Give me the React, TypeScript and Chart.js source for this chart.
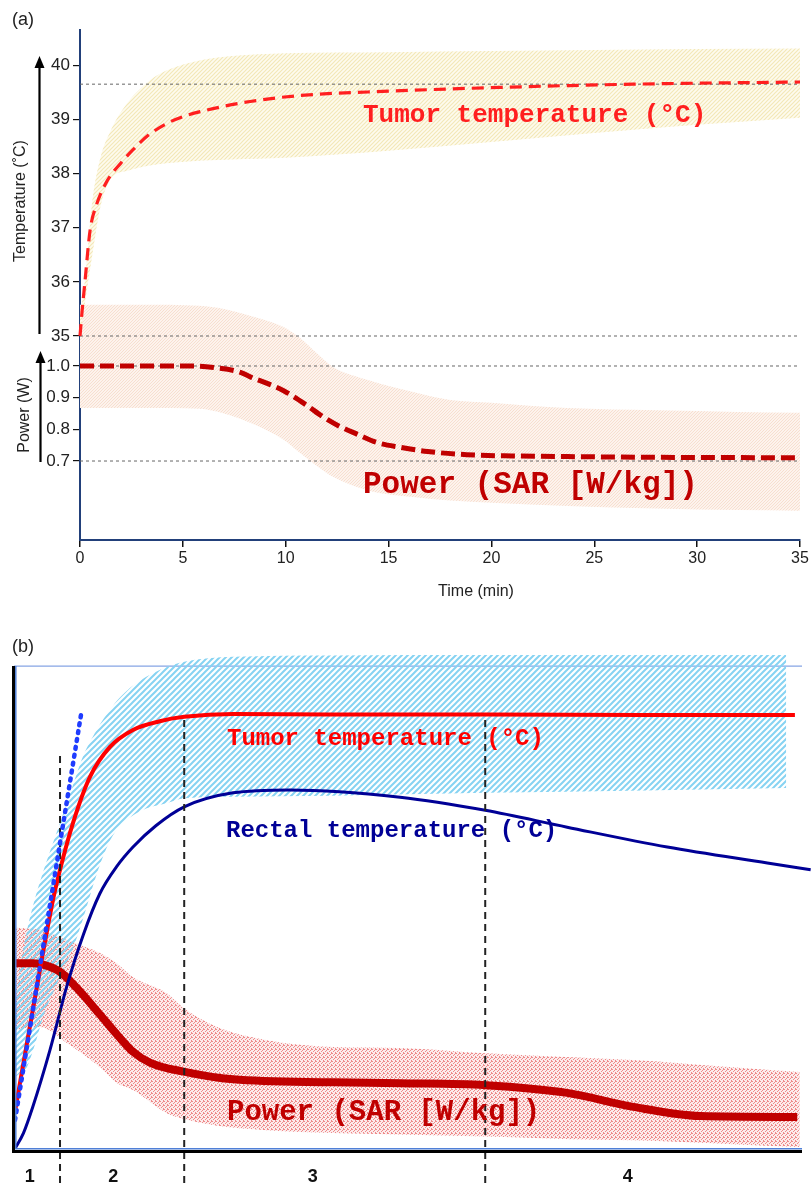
import React, { useEffect, useRef } from 'react';
import { Chart, registerables } from 'chart.js';

Chart.register(...registerables);

// ---------------- Panel (a) data ----------------
const A_X_TICKS_MAX = 35;
const A_TEMP_TICKS = [35, 36, 37, 38, 39, 40];
const A_POWER_TICKS = [0.7, 0.8, 0.9, 1.0];

const A_TEMP_T = [0, 0.1, 0.24, 0.49, 0.8, 1.3, 2, 2.58, 3.3, 4.2, 5, 6.15, 8.27, 10.7, 15, 20.4, 26.9, 35];
const A_TEMP_V = [35, 35.45, 36.0, 36.95, 37.42, 37.85, 38.2, 38.44, 38.7, 38.92, 39.05, 39.17, 39.33, 39.44, 39.52, 39.59, 39.65, 39.69];

const A_TBAND_T = [0, 0.2, 0.6, 1, 1.5, 2.3, 3.4, 4.2, 6, 7.4, 10, 15, 20, 25, 30, 35];
const A_TBAND_HI = [35.4, 35.9, 37.5, 38.3, 38.8, 39.3, 39.72, 39.9, 40.1, 40.17, 40.22, 40.24, 40.26, 40.28, 40.3, 40.31];
const A_TBAND_LO = [35.0, 35.5, 36.5, 37.4, 37.9, 38.05, 38.15, 38.19, 38.24, 38.26, 38.29, 38.42, 38.58, 38.75, 38.9, 39.03];

const A_POW_T = [0, 5.5, 6.5, 7.8, 8.3, 9.1, 9.9, 11.0, 11.8, 12.6, 13.5, 14.4, 15.6, 16.9, 18.8, 21, 23.7, 27, 31, 35];
const A_POW_V = [1.0, 1.0, 0.995, 0.98, 0.965, 0.945, 0.922, 0.877, 0.84, 0.81, 0.784, 0.759, 0.743, 0.73, 0.72, 0.716, 0.714, 0.712, 0.711, 0.71];

const A_PBAND_T = [0, 3, 5.8, 7, 8.3, 9.9, 10.7, 11.5, 12.3, 14, 16.4, 18, 20, 23.7, 28, 32, 35];
const A_PBAND_HI = [1.193, 1.193, 1.19, 1.18, 1.158, 1.123, 1.088, 1.041, 0.997, 0.956, 0.915, 0.893, 0.884, 0.867, 0.86, 0.855, 0.852];
const A_PBAND_LO = [0.867, 0.867, 0.865, 0.85, 0.82, 0.767, 0.725, 0.685, 0.65, 0.607, 0.585, 0.575, 0.568, 0.558, 0.55, 0.545, 0.543];

const A_TEMP_REFS = [39.65, 35];
const A_POWER_REFS = [1.0, 0.7];

// ---------------- Panel (b) data ----------------
const B_SEG_POS = [2.0, 12.6, 37.9, 77.9];
const B_SEG_LABELS = ['1', '2', '3', '4'];
const B_BOUNDS_X = [5.84, 21.6, 59.8];
const B_BOUNDS_TOP = [82.2, 89.9, 89.9];
const B_BOUNDS_BOTTOM = -6.8;
const B_FRAME_TOP = 100;

const B_TUMOR_X = [0.13, 2.5, 4.95, 5.84, 7.49, 9.64, 12.18, 15.1, 18.5, 21.6, 27.8, 40, 60, 80, 99.1];
const B_TUMOR_Y = [8, 30, 51.7, 57.9, 67.6, 77.1, 83.3, 86.8, 88.6, 89.5, 90.1, 90.0, 90.0, 89.9, 89.9];

const B_TANGENT_X = [0.13, 4.95, 8.6];
const B_TANGENT_Y = [6.2, 54.5, 90.9];

const B_RECTAL_X = [0.13, 1.2, 2.4, 4.57, 6.73, 8.8, 10.9, 13, 15.1, 18, 21.6, 27.8, 35, 49, 59.8, 70.2, 82.9, 95.6, 101.1];
const B_RECTAL_Y = [0.3, 3.5, 9, 20.7, 34, 44.5, 53, 58.5, 62.6, 67, 70.9, 73.8, 74.4, 72.9, 70.2, 66.7, 62.6, 59.3, 57.9];

const B_POWER_X = [0, 2.4, 3.7, 5.84, 8, 10.9, 13.1, 15.1, 17.3, 21.5, 27.8, 40.5, 49, 59.8, 70.2, 78.6, 87.1, 99.4];
const B_POWER_Y = [38.6, 38.6, 38.3, 36.8, 33.4, 28, 23.8, 20.3, 18, 16.2, 14.6, 14.0, 13.8, 13.4, 11.8, 8.9, 7.0, 6.8];

const B_PBAND_X = [0, 3.3, 6.7, 10.9, 13.1, 15.1, 19.4, 21.4, 25.8, 32.1, 40.5, 49, 59.8, 74.4, 78.6, 91.2, 99.7];
const B_PBAND_HI = [45.9, 45.5, 43.4, 40.7, 38.5, 35.7, 32.4, 29.5, 25.4, 22.7, 21.3, 21.1, 20, 18.9, 18.6, 17.1, 16.1];
const B_PBAND_LO = [24.8, 25.4, 22.1, 17.1, 13.8, 12.4, 7.6, 6.5, 5.0, 4.1, 3.5, 3.2, 2.8, 2.1, 2.0, 1.2, 0.6];

const B_TBAND_X = [0, 0.5, 0.8, 1.6, 2.5, 3.7, 5.5, 7.4, 8.8, 10.5, 12.2, 13.5, 16, 19.4, 21.6, 27.8, 40, 60, 80, 98];
const B_TBAND_HI = [25, 34.5, 38, 45, 51, 57.5, 66, 75, 81.5, 86.8, 91, 93.6, 97, 99.8, 100.9, 101.9, 102.2, 102.3, 102.3, 102.3];
const B_TBAND_LO = [15, 15.5, 16, 17, 21, 27.5, 34.5, 41.3, 48, 57, 64, 67, 70, 71.7, 72.7, 73, 73.2, 73.8, 74.3, 74.8];

// ---------------- helpers ----------------
const pts = (xs: number[], ys: number[]) => xs.map((x, i) => ({ x, y: ys[i] }));

function stripePattern(color: string, size: number, width: number, bg?: string): CanvasPattern | string {
  const c = document.createElement('canvas');
  c.width = size;
  c.height = size;
  const g = c.getContext('2d');
  if (!g) return color;
  if (bg) {
    g.fillStyle = bg;
    g.fillRect(0, 0, size, size);
  }
  g.strokeStyle = color;
  g.lineWidth = width;
  g.beginPath();
  g.moveTo(-1, size + 1);
  g.lineTo(size + 1, -1);
  g.moveTo(-size, size);
  g.lineTo(size, -size);
  g.moveTo(0, 2 * size);
  g.lineTo(2 * size, 0);
  g.stroke();
  return g.createPattern(c, 'repeat') || color;
}

function dotPattern(color: string, bg: string): CanvasPattern | string {
  const c = document.createElement('canvas');
  c.width = 4;
  c.height = 4;
  const g = c.getContext('2d');
  if (!g) return color;
  g.fillStyle = bg;
  g.fillRect(0, 0, 4, 4);
  g.fillStyle = color;
  const cells = [[0, 0], [2, 1], [1, 2], [3, 3], [3, 0]];
  cells.forEach(([x, y]) => g.fillRect(x, y, 1, 1));
  return g.createPattern(c, 'repeat') || color;
}

const SANS = '"Liberation Sans", Arial, sans-serif';
const MONO = '"Liberation Mono", "Courier New", monospace';

function drawArrow(ctx: CanvasRenderingContext2D, x: number, yBottom: number, yTip: number) {
  ctx.save();
  ctx.strokeStyle = '#000';
  ctx.fillStyle = '#000';
  ctx.lineWidth = 2.2;
  ctx.beginPath();
  ctx.moveTo(x, yBottom);
  ctx.lineTo(x, yTip + 8);
  ctx.stroke();
  ctx.beginPath();
  ctx.moveTo(x, yTip);
  ctx.lineTo(x - 5, yTip + 12);
  ctx.lineTo(x + 5, yTip + 12);
  ctx.closePath();
  ctx.fill();
  ctx.restore();
}

function vText(ctx: CanvasRenderingContext2D, text: string, cx: number, cy: number, font: string) {
  ctx.save();
  ctx.translate(cx, cy);
  ctx.rotate(-Math.PI / 2);
  ctx.font = font;
  ctx.fillStyle = '#222';
  ctx.textAlign = 'center';
  ctx.textBaseline = 'middle';
  ctx.fillText(text, 0, 0);
  ctx.restore();
}

const panelAPlugin = {
  id: 'panelADecor',
  afterDatasetsDraw(chart: any) {
    const ctx: CanvasRenderingContext2D = chart.ctx;
    ctx.save();
    ctx.textBaseline = 'alphabetic';
    ctx.textAlign = 'left';
    ctx.fillStyle = '#ff1f1f';
    ctx.font = `bold 26px ${MONO}`;
    ctx.fillText('Tumor temperature (°C)', 363, 122);
    ctx.fillStyle = '#c00000';
    ctx.font = `bold 31px ${MONO}`;
    ctx.fillText('Power (SAR [W/kg])', 363, 493);
    ctx.restore();
  },
  afterDraw(chart: any) {
    const ctx: CanvasRenderingContext2D = chart.ctx;
    ctx.save();
    ctx.fillStyle = '#222';
    ctx.font = `18px ${SANS}`;
    ctx.textBaseline = 'middle';
    ctx.fillText('(a)', 12, 20);
    ctx.font = `16px ${SANS}`;
    ctx.textAlign = 'center';
    ctx.fillText('Time (min)', 476, 592);
    ctx.restore();
    drawArrow(ctx, 39.5, 334, 56);
    drawArrow(ctx, 40.5, 462, 351);
    vText(ctx, 'Temperature (˚C)', 21, 201, `16px ${SANS}`);
    vText(ctx, 'Power (W)', 25, 415, `16px ${SANS}`);
  },
};

const panelBPlugin = {
  id: 'panelBDecor',
  beforeDatasetsDraw(chart: any) {
    const ctx: CanvasRenderingContext2D = chart.ctx;
    const { left, right } = chart.chartArea;
    const yTop = chart.scales.y.getPixelForValue(B_FRAME_TOP);
    ctx.save();
    ctx.strokeStyle = '#86a4e4';
    ctx.lineWidth = 1.3;
    ctx.beginPath();
    ctx.moveTo(left, yTop);
    ctx.lineTo(right, yTop);
    ctx.stroke();
    ctx.restore();
  },
  afterDatasetsDraw(chart: any) {
    const ctx: CanvasRenderingContext2D = chart.ctx;
    const { left, right, bottom } = chart.chartArea;
    const yTop = chart.scales.y.getPixelForValue(B_FRAME_TOP);
    ctx.save();
    ctx.strokeStyle = '#000';
    ctx.lineWidth = 3;
    ctx.beginPath();
    ctx.moveTo(left - 0.5, yTop);
    ctx.lineTo(left - 0.5, bottom + 3);
    ctx.moveTo(left - 2, bottom + 1.5);
    ctx.lineTo(right, bottom + 1.5);
    ctx.stroke();
    ctx.strokeStyle = '#4f7fd6';
    ctx.lineWidth = 1.5;
    ctx.beginPath();
    ctx.moveTo(left + 1.8, yTop);
    ctx.lineTo(left + 1.8, bottom - 1.2);
    ctx.moveTo(left + 1, bottom - 1.2);
    ctx.lineTo(right, bottom - 1.2);
    ctx.stroke();
    ctx.textBaseline = 'alphabetic';
    ctx.textAlign = 'left';
    ctx.font = `bold 24px ${MONO}`;
    ctx.fillStyle = '#ff0000';
    ctx.fillText('Tumor temperature (°C)', 227, 120);
    ctx.fillStyle = '#000096';
    ctx.fillText('Rectal temperature (°C)', 226, 212);
    ctx.font = `bold 29px ${MONO}`;
    ctx.fillStyle = '#c00000';
    ctx.fillText('Power (SAR [W/kg])', 227, 495);
    ctx.restore();
  },
  afterDraw(chart: any) {
    const ctx: CanvasRenderingContext2D = chart.ctx;
    ctx.save();
    ctx.fillStyle = '#222';
    ctx.font = `18px ${SANS}`;
    ctx.textBaseline = 'middle';
    ctx.fillText('(b)', 12, 22);
    ctx.restore();
  },
};

function PanelA() {
  const ref = useRef<HTMLCanvasElement>(null);
  useEffect(() => {
    if (!ref.current) return;
    const yellow = stripePattern('#f3e8b8', 4, 1.2, '#fefbef');
    const peach = stripePattern('#f7dfd0', 3, 1, '#fdf3ed');
    const line = { pointRadius: 0, cubicInterpolationMode: 'monotone' as const, clip: false as any };
    const refLine = (v: number, axis: string) => ({
      data: [{ x: 0, y: v }, { x: A_X_TICKS_MAX, y: v }],
      yAxisID: axis,
      borderColor: '#666',
      borderWidth: 1,
      borderDash: [3, 3],
      pointRadius: 0,
      fill: false,
      order: 1,
      clip: false as any,
    });
    const chart = new Chart(ref.current, {
      type: 'line',
      data: {
        datasets: [
          { label: 'Temp SD high', data: pts(A_TBAND_T, A_TBAND_HI), yAxisID: 'yT', borderWidth: 0, backgroundColor: yellow as any, fill: '+1', order: 3, ...line },
          { label: 'Temp SD low', data: pts(A_TBAND_T, A_TBAND_LO), yAxisID: 'yT', borderWidth: 0, fill: false, order: 3, ...line },
          { label: 'Power SD high', data: pts(A_PBAND_T, A_PBAND_HI), yAxisID: 'yP', borderWidth: 0, backgroundColor: peach as any, fill: '+1', order: 4, ...line },
          { label: 'Power SD low', data: pts(A_PBAND_T, A_PBAND_LO), yAxisID: 'yP', borderWidth: 0, fill: false, order: 4, ...line },
          ...A_TEMP_REFS.map((v) => refLine(v, 'yT')),
          ...A_POWER_REFS.map((v) => refLine(v, 'yP')),
          { label: 'Tumor temperature', data: pts(A_TEMP_T, A_TEMP_V), yAxisID: 'yT', borderColor: '#ff1f1f', borderWidth: 3.2, borderDash: [12, 7], fill: false, order: 0, ...line },
          { label: 'Power', data: pts(A_POW_T, A_POW_V), yAxisID: 'yP', borderColor: '#c00000', borderWidth: 5, borderDash: [14, 6], fill: false, order: 0, ...line },
        ] as any,
      },
      options: {
        animation: false,
        responsive: false,
        maintainAspectRatio: false,
        layout: { padding: { left: 0, top: 30, right: 11, bottom: 0 } },
        plugins: { legend: { display: false }, tooltip: { enabled: false } },
        scales: {
          x: {
            type: 'linear',
            min: 0,
            max: A_X_TICKS_MAX,
            ticks: { stepSize: 5, font: { family: SANS, size: 16 }, color: '#222', padding: 2, maxRotation: 0 },
            grid: { drawOnChartArea: false, drawTicks: true, tickLength: 7, color: '#111', lineWidth: 1.5 },
            border: { color: '#22407a', width: 2 },
            afterFit: (s: any) => { s.height = 85; },
          },
          yT: {
            type: 'linear',
            position: 'left',
            stack: 'a',
            stackWeight: 306,
            weight: 2,
            min: 35,
            max: 40.65,
            afterBuildTicks: (s: any) => { s.ticks = A_TEMP_TICKS.map((v) => ({ value: v })); },
            ticks: { font: { family: SANS, size: 17 }, color: '#222', padding: 3, autoSkip: false },
            grid: { drawOnChartArea: false, drawTicks: true, tickLength: 7, color: '#111', lineWidth: 1.2 },
            border: { color: '#22407a', width: 2 },
            afterFit: (s: any) => { s.width = 80; },
          },
          yP: {
            type: 'linear',
            position: 'left',
            stack: 'a',
            stackWeight: 204,
            weight: 1,
            min: 0.4506,
            max: 1.0947,
            afterBuildTicks: (s: any) => { s.ticks = A_POWER_TICKS.map((v) => ({ value: v })); },
            ticks: { font: { family: SANS, size: 17 }, color: '#222', padding: 3, autoSkip: false, callback: (v: any) => Number(v).toFixed(1) },
            grid: { drawOnChartArea: false, drawTicks: true, tickLength: 7, color: '#111', lineWidth: 1.2 },
            border: { color: '#22407a', width: 2 },
            afterFit: (s: any) => { s.width = 80; },
          },
        } as any,
      },
      plugins: [panelAPlugin],
    });
    return () => chart.destroy();
  }, []);
  return <canvas ref={ref} width={811} height={625} style={{ display: 'block' }} />;
}

function PanelB() {
  const ref = useRef<HTMLCanvasElement>(null);
  useEffect(() => {
    if (!ref.current) return;
    const blue = stripePattern('#86d3f2', 6, 2);
    const pink = dotPattern('rgba(232,95,95,0.7)', 'rgba(250,222,222,0.6)');
    const line = { pointRadius: 0, cubicInterpolationMode: 'monotone' as const, fill: false };
    const chart = new Chart(ref.current, {
      type: 'line',
      data: {
        datasets: [
          { label: 'Temp band high', data: pts(B_TBAND_X, B_TBAND_HI), borderWidth: 0, backgroundColor: blue as any, fill: '+1', order: 4, pointRadius: 0, cubicInterpolationMode: 'monotone', clip: false },
          { label: 'Temp band low', data: pts(B_TBAND_X, B_TBAND_LO), borderWidth: 0, fill: false, order: 4, pointRadius: 0, cubicInterpolationMode: 'monotone' },
          { label: 'Power band high', data: pts(B_PBAND_X, B_PBAND_HI), borderWidth: 0, backgroundColor: pink as any, fill: '+1', order: 5, pointRadius: 0, cubicInterpolationMode: 'monotone' },
          { label: 'Power band low', data: pts(B_PBAND_X, B_PBAND_LO), borderWidth: 0, fill: false, order: 5, pointRadius: 0, cubicInterpolationMode: 'monotone' },
          { label: 'Power', data: pts(B_POWER_X, B_POWER_Y), borderColor: '#c00000', borderWidth: 8, order: 2, ...line },
          { label: 'Rectal temperature', data: pts(B_RECTAL_X, B_RECTAL_Y), borderColor: '#000096', borderWidth: 3, order: 1, clip: false, ...line },
          { label: 'Tumor temperature', data: pts(B_TUMOR_X, B_TUMOR_Y), borderColor: '#ff0000', borderWidth: 4, order: 1, ...line },
          { label: 'Initial slope', data: pts(B_TANGENT_X, B_TANGENT_Y), borderColor: '#1f3cff', borderWidth: 4.5, borderDash: [2, 6], borderCapStyle: 'round', order: 0, ...line },
          ...B_BOUNDS_X.map((x, i) => ({
            label: `Boundary ${i + 1}`,
            data: [{ x, y: B_BOUNDS_BOTTOM }, { x, y: B_BOUNDS_TOP[i] }],
            borderColor: '#222',
            borderWidth: 2,
            borderDash: [7, 5],
            pointRadius: 0,
            fill: false,
            order: 0,
            clip: false,
          })),
        ] as any,
      },
      options: {
        animation: false,
        responsive: false,
        maintainAspectRatio: false,
        layout: { padding: { left: 14, top: 27, right: 9, bottom: 0 } },
        plugins: { legend: { display: false }, tooltip: { enabled: false } },
        scales: {
          x: {
            type: 'linear',
            min: 0,
            max: 100,
            afterBuildTicks: (s: any) => { s.ticks = B_SEG_POS.map((v) => ({ value: v })); },
            ticks: {
              autoSkip: false,
              maxRotation: 0,
              padding: 16,
              color: '#111',
              font: { family: SANS, size: 18, weight: 'bold' },
              callback: (_v: any, i: number) => B_SEG_LABELS[i],
            },
            grid: { display: false, drawTicks: false },
            border: { display: false },
            afterFit: (s: any) => { s.height = 34; },
          },
          y: { type: 'linear', display: false, min: 0, max: 102.9 },
        } as any,
      },
      plugins: [panelBPlugin],
    });
    return () => chart.destroy();
  }, []);
  return <canvas ref={ref} width={811} height={559} style={{ display: 'block' }} />;
}

export default function App() {
  return (
    <div style={{ position: 'absolute', left: 0, top: 0, width: 811, background: '#fff' }}>
      <PanelA />
      <PanelB />
    </div>
  );
}
